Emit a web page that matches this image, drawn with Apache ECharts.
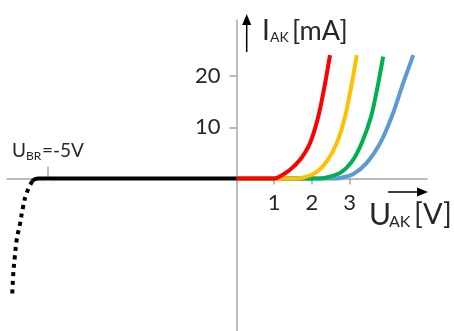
<!DOCTYPE html>
<html><head><meta charset="utf-8">
<script src="https://cdn.jsdelivr.net/npm/echarts@6/dist/echarts.min.js"></script>
<style>html,body{margin:0;padding:0;background:#fff}#c{width:454px;height:331px}</style>
</head><body><div id="c"></div>
<script>
// Data (V in volts, I in mA)
const xTicks = [1, 2, 3];
const yTicks = [10, 20];
const breakdownTick = -5;
const reverseSolid = [[0,0],[-5.25,0],[-5.35,-0.15],[-5.42,-0.55]];
const reverseDotted = [[-5.42,-0.55],[-5.57,-2.9],[-5.66,-5.5],[-5.74,-8.75],[-5.83,-12.0],[-5.88,-15.3],[-5.92,-18.5],[-5.95,-23.1]];
const redCurve = [[0,0],[1.0,0],[1.15,0.4],[1.42,1.7],[1.68,3.6],[1.95,6.9],[2.17,12.1],[2.35,18.6],[2.48,24.1]];
const yellowCurve = [[0,0],[1.6,0],[1.86,0.35],[2.13,1.3],[2.39,3.3],[2.66,6.9],[2.88,12.1],[3.06,18.6],[3.19,24.1]];
const greenCurve = [[0,0],[2.2,0],[2.39,0.2],[2.75,1.1],[3.06,3.3],[3.32,6.9],[3.57,12.1],[3.76,18.6],[3.89,23.8]];
const blueCurve = [[0,0],[2.6,0],[2.75,0.1],[3.10,0.9],[3.45,3.0],[3.81,6.9],[4.12,12.1],[4.42,18.6],[4.69,24.1]];

const FONT = 'Lato';
const TXT = '#262626';
const AX = '#a6a6a6';

const chart = echarts.init(document.getElementById('c'), null, {renderer: 'canvas'});
function curve(data, color, z) {
  return {type: 'line', data: data, showSymbol: false, smooth: 0.3,
    lineStyle: {color: color, width: 4}, z: z, silent: true, animation: false};
}
chart.setOption({
  animation: false,
  grid: {left: 7, right: 27, top: 20, bottom: 0, containLabel: false, outerBoundsMode: 'none'},
  xAxis: {type: 'value', min: -6.087, max: 5.053, position: 'bottom', offset: -152.5,
    axisLine: {onZero: false, lineStyle: {color: AX, width: 1.5}},
    axisTick: {show: true, customValues: xTicks, length: 6, lineStyle: {color: AX, width: 1.5}},
    axisLabel: {customValues: xTicks, color: TXT, fontFamily: FONT, fontSize: 22, margin: 13},
    splitLine: {show: false}},
  yAxis: {type: 'value', min: -29.79, max: 30.96, position: 'left', offset: -229.5,
    axisLine: {onZero: false, lineStyle: {color: AX, width: 1.5}},
    axisTick: {show: true, customValues: yTicks, length: 7, lineStyle: {color: AX, width: 1.5}},
    axisLabel: {customValues: yTicks, color: TXT, fontFamily: FONT, fontSize: 22, margin: 16},
    splitLine: {show: false}},
  series: [
    curve(blueCurve, '#5b9bd5', 2),
    curve(greenCurve, '#00b050', 3),
    curve(yellowCurve, '#ffc000', 4),
    Object.assign(curve(redCurve, '#ff0000', 5), {
      markLine: {silent: true, symbol: 'none', label: {show: false},
        lineStyle: {color: AX, width: 1.5, type: 'solid'},
        data: [[{coord: [breakdownTick, 0]}, {coord: [breakdownTick, 2.3]}]]}
    }),
    Object.assign(curve(reverseSolid, '#000', 6), {smooth: 0.5}),
    {type: 'line', data: reverseDotted, showSymbol: false, smooth: 0.4, silent: true,
      lineStyle: {color: '#000', width: 4, type: [4, 4.5], cap: 'butt'}, z: 6}
  ],
  graphic: [
    // y axis title
    {type: 'text', x: 262, y: 31, style: {text: 'I', font: '28px ' + FONT, fill: TXT, verticalAlign: 'middle'}},
    {type: 'text', x: 270, y: 37, style: {text: 'AK', font: '14px ' + FONT, fill: TXT, verticalAlign: 'middle'}},
    {type: 'text', x: 292, y: 31, style: {text: '[mA]', font: '27px ' + FONT, fill: TXT, verticalAlign: 'middle'}},
    // x axis title
    {type: 'text', x: 369, y: 215, style: {text: 'U', font: '30px ' + FONT, fill: TXT, verticalAlign: 'middle'}},
    {type: 'text', x: 389, y: 222, style: {text: 'AK', font: '16px ' + FONT, fill: TXT, verticalAlign: 'middle'}},
    {type: 'text', x: 414, y: 215, style: {text: '[V]', font: '29px ' + FONT, fill: TXT, verticalAlign: 'middle'}},
    // breakdown label
    {type: 'text', x: 12, y: 151, style: {text: 'U', font: '19px ' + FONT, fill: TXT, verticalAlign: 'middle'}},
    {type: 'text', x: 26, y: 156, style: {text: 'BR', font: '12px ' + FONT, fill: TXT, verticalAlign: 'middle'}},
    {type: 'text', x: 42, y: 151, style: {text: '=-5V', font: '19px ' + FONT, fill: TXT, verticalAlign: 'middle'}},
    // arrows
    {type: 'line', shape: {x1: 246.7, y1: 52, x2: 246.7, y2: 22}, style: {stroke: '#000', lineWidth: 1.5}},
    {type: 'polygon', shape: {points: [[246.7, 14], [242.2, 25], [251.2, 25]]}, style: {fill: '#000'}},
    {type: 'line', shape: {x1: 388, y1: 192, x2: 420, y2: 192}, style: {stroke: '#000', lineWidth: 1.5}},
    {type: 'polygon', shape: {points: [[428, 192], [417, 187.5], [417, 196.5]]}, style: {fill: '#000'}}
  ]
});
</script></body></html>
